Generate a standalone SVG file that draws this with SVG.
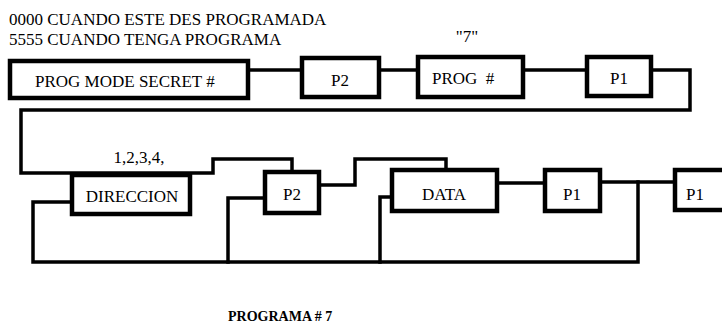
<svg xmlns="http://www.w3.org/2000/svg" width="722" height="330" viewBox="0 0 722 330">
<style>
.box{fill:#fff;stroke:#000;stroke-width:4.5}
.ln{fill:none;stroke:#000;stroke-width:3.5;stroke-linejoin:miter;stroke-linecap:square}
text{font-family:"Liberation Serif","Times New Roman",serif;font-size:17px;fill:#000}
.c{text-anchor:middle}
.b{font-weight:bold;font-size:14px}
</style>
<rect width="722" height="330" fill="#fff"/>
<g id="connectors">
<path class="ln" d="M248,70 H302"/>
<path class="ln" d="M379,70 H418"/>
<path class="ln" d="M523,70 H587"/>
<path class="ln" d="M651,70 H690 V110 H21 V173 H213 V159 H292 V172"/>
<path class="ln" d="M319,185 H355 V159 H446 V170"/>
<path class="ln" d="M497,183 H545"/>
<path class="ln" d="M600,182 H675"/>
<path class="ln" d="M638,182 V262 H33 V202 H72"/>
<path class="ln" d="M265,198 H228 V262"/>
<path class="ln" d="M392,197 H380 V262"/>
</g>
<g id="note1"><text x="9" y="25">0000 CUANDO ESTE DES PROGRAMADA</text></g>
<g id="note2"><text x="9" y="45">5555 CUANDO TENGA PROGRAMA</text></g>
<g id="note7"><text x="467" y="42" class="c">"7"</text></g>
<g id="secret"><rect class="box" x="10" y="61" width="238" height="37"/><text x="35" y="87">PROG MODE SECRET #</text></g>
<g id="p2a"><rect class="box" x="302" y="58" width="77" height="39"/><text x="340" y="86" class="c">P2</text></g>
<g id="prog"><rect class="box" x="418" y="57" width="105" height="40"/><text x="432" y="84" xml:space="preserve">PROG  #</text></g>
<g id="p1a"><rect class="box" x="587" y="57" width="64" height="39"/><text x="619" y="84" class="c">P1</text></g>
<g id="dir"><text x="139" y="163" class="c">1,2,3,4,</text><rect class="box" x="72" y="175" width="118" height="39"/><text x="132" y="202" class="c">DIRECCION</text></g>
<g id="p2b"><rect class="box" x="265" y="172" width="54" height="41"/><text x="292" y="200" class="c">P2</text></g>
<g id="data"><rect class="box" x="392" y="170" width="105" height="41"/><text x="444" y="200" class="c">DATA</text></g>
<g id="p1b"><rect class="box" x="545" y="170" width="55" height="41"/><text x="572" y="200" class="c">P1</text></g>
<g id="p1c"><rect class="box" x="675" y="170" width="52" height="40"/><text x="686" y="200">P1</text></g>
<g id="title"><text x="228" y="321" class="b">PROGRAMA # 7</text></g>
</svg>
